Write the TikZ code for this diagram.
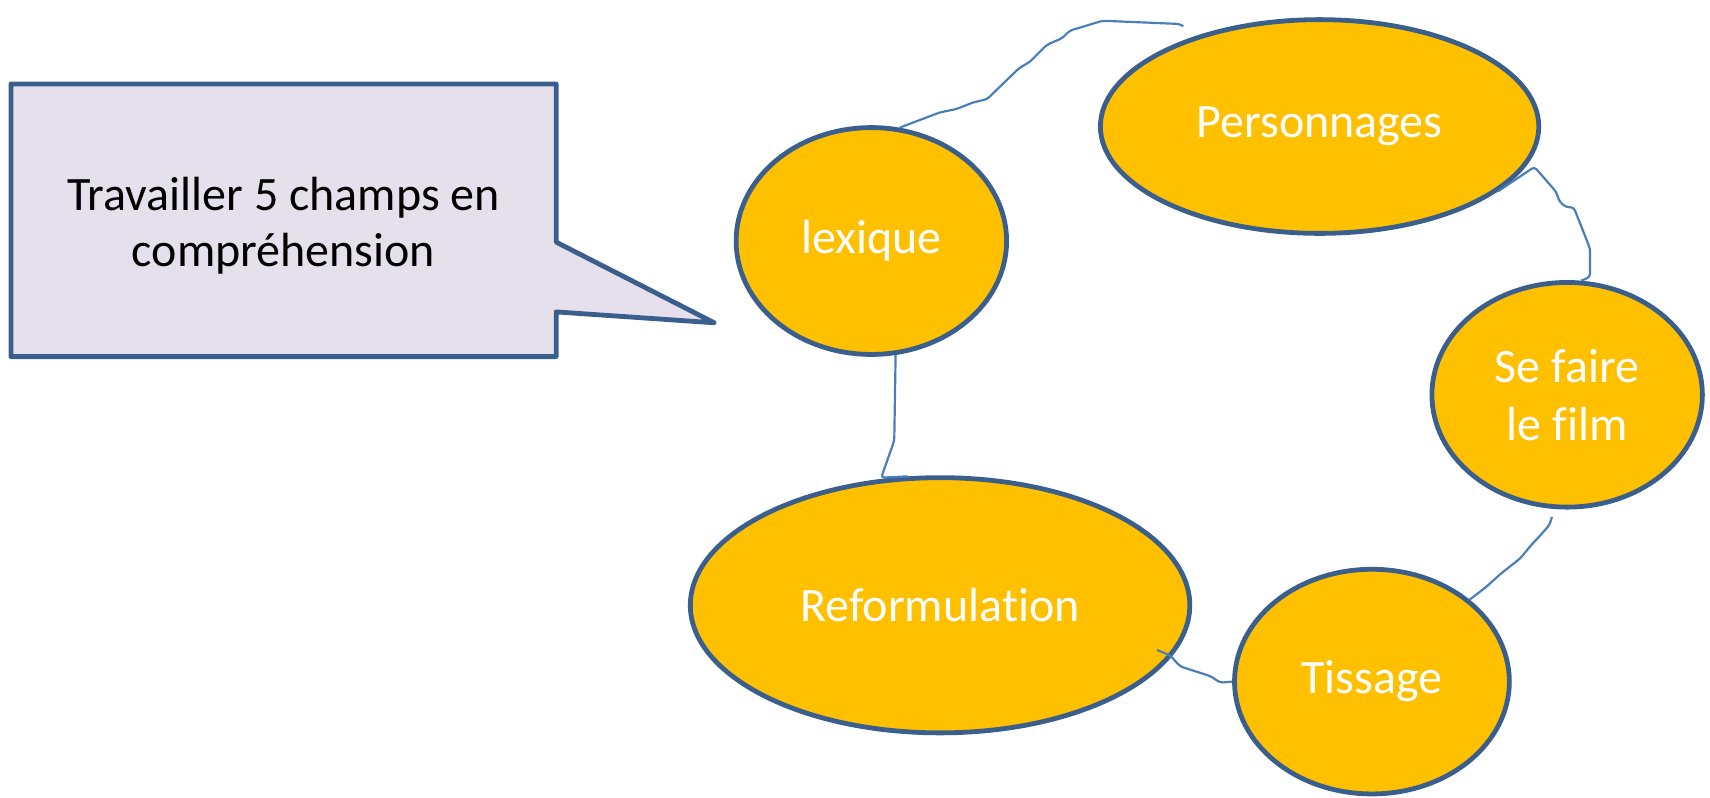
\documentclass[tikz,border=0pt]{standalone}
\usepackage{fontspec}
\setmainfont{Carlito}[Ligatures=NoCommon]
\usetikzlibrary{shapes.geometric}
\definecolor{bordc}{HTML}{3A5F8C}
\definecolor{fillc}{HTML}{FFC000}
\definecolor{connc}{HTML}{4A7EBB}
\definecolor{notec}{HTML}{E6E0EC}
\tikzset{
  oval/.style={ellipse, draw=bordc, fill=fillc, line width=4.4pt, inner sep=0pt,
    text=white, align=center, font=\fontsize{44}{53}\selectfont},
  conn/.style={draw=connc, line width=2pt, rounded corners=3pt},
  notebox/.style={draw=bordc, fill=notec, line width=4.4pt, line join=round},
  notetext/.style={align=center, font=\fontsize{44}{52}\selectfont, text=black}
}
\begin{document}
\begin{tikzpicture}[x=1pt,y=-1pt]
\useasboundingbox (0,0) rectangle (1568,731);
% callout
\draw[notebox] (10,77) -- (510,77) -- (510,222) -- (655,296) -- (510,286) -- (510,327) -- (10,327) -- cycle;
\node[notetext] (note) at (260,207) {Travailler 5 champs en\\compréhension};
% ellipses
\node[oval, minimum width=248pt, minimum height=208pt] (lex) at (799,221) {lexique};
\node[oval, minimum width=402pt, minimum height=196pt] (pers) at (1210,116) {Personnages};
\node[oval, minimum width=248pt, minimum height=206pt] (film) at (1437,362) {Se faire\\le film};
\node[oval, minimum width=252pt, minimum height=206pt] (tiss) at (1258,625) {Tissage};
\node[oval, minimum width=458pt, minimum height=234pt] (ref) at (862,555) {Reformulation};
% free ends
\coordinate (e1) at (1085,24);
\coordinate (s3) at (1423,474);
\coordinate (s4) at (1061,596);
% connectors
\draw[conn] (lex.76) -- (862,103) -- (877,100) -- (892,94) -- (905,91) -- (935,62) -- (944,57)
  -- (960,41) -- (974,35) -- (981,28) -- (988,26) -- (1011,19) -- (1082,22) -- (e1);
\draw[conn] (pers.-20) -- (1407,153) -- (1427,176) -- (1430,185) -- (1436,190) -- (1443,190)
  -- (1458,228) -- (1458,254) -- (film.83);
\draw[conn] (s3) -- (1421,481) -- (1415,488) -- (1403,501) -- (1394,512) -- (1375,527)
  -- (1363,538) -- (tiss.40);
\draw[conn] (s4) -- (1073,601) -- (1082,611) -- (1110,620) -- (1119,626) -- (tiss.west);
\draw[conn] (lex.-78) -- (820,404) -- (808,438) -- (ref.104);
\end{tikzpicture}
\end{document}
